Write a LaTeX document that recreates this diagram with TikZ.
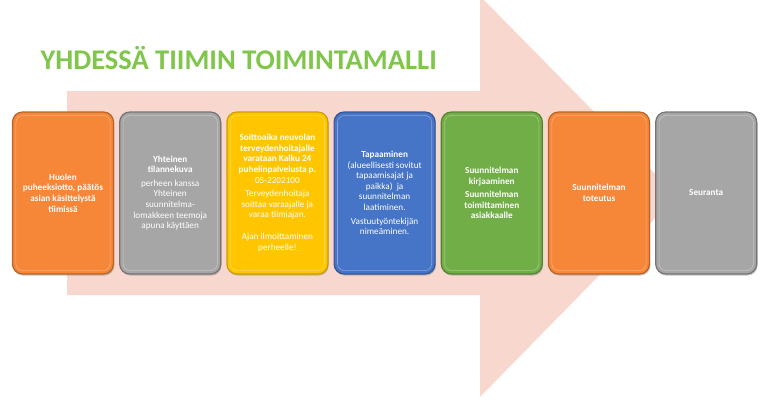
\documentclass[tikz,border=0pt]{standalone}
\usepackage{fontspec}
\setmainfont{Carlito}
\usetikzlibrary{positioning,shadows}
\definecolor{arrowpink}{RGB}{248,216,206}
\definecolor{titlegreen}{RGB}{128,198,76}
\definecolor{phasegray}{RGB}{166,166,166}
\definecolor{phaseorange}{RGB}{246,134,56}
\definecolor{phaseyellow}{RGB}{255,198,0}
\definecolor{phaseblue}{RGB}{70,116,198}
\definecolor{phasegreen}{RGB}{114,174,72}

\begin{document}
\begin{tikzpicture}[x=1pt,y=-1pt,node distance=5pt,phase/.style={rounded corners=10pt,minimum width=101pt,minimum height=162pt,inner sep=2pt,align=center,text=white,font=\fontsize{9.2}{10.6}\selectfont,line width=1.2pt,drop shadow={shadow xshift=0.8pt,shadow yshift=-1.6pt,opacity=0.45}}]
\tikzstyle{inner rim} = [draw=white,opacity=0.35,line width=0.6pt,rounded corners=7pt]
\useasboundingbox (0,0) rectangle (760,400);

\coordinate (shaftnw) at (67,91);
\coordinate (shaftne) at (480,91);
\coordinate (headtop) at (480,-4);
\coordinate (headtip) at (677,196);
\coordinate (headbot) at (480,397);
\coordinate (shaftse) at (480,295);
\coordinate (shaftsw) at (67,295);

% Draw big arrow
\fill[arrowpink] (shaftnw) -- (shaftne) -- (headtop) -- (headtip) -- (headbot) -- (shaftse) -- (shaftsw) -- cycle;

% Heading
\node[anchor=west,text=titlegreen,font=\fontsize{28.5}{32}\selectfont\bfseries] (heading) at (37,58) {YHDESSÄ TIIMIN TOIMINTAMALLI};

% Phases
\node[phase,fill=phaseorange,draw=phaseorange!75!black] (huoli) at (63,193) {\textbf{Huolen}\\\textbf{puheeksiotto, päätös}\\\textbf{asian käsittelystä}\\\textbf{tiimissä}};
\node[phase,fill=phasegray,draw=phasegray!70!black,right=of huoli] (tilanne) {\textbf{Yhteinen}\\\textbf{tilannekuva}\\[3pt]perheen kanssa\\Yhteinen\\suunnitelma-\\lomakkeen teemoja\\apuna käyttäen};
\node[phase,fill=phaseyellow,draw=phaseyellow!80!black,right=of tilanne] (soitto) {\textbf{Soittoaika neuvolan}\\\textbf{terveydenhoitajalle}\\\textbf{varataan Kaiku 24}\\\textbf{puhelinpalvelusta p.}\\05-2202100\\[3pt]Terveydenhoitaja\\soittaa varaajalle ja\\varaa tiimiajan.\\[11pt]Ajan ilmoittaminen\\perheelle!};
\node[phase,fill=phaseblue,draw=phaseblue!75!black,right=of soitto] (tapaa) {\textbf{Tapaaminen}\\(alueellisesti sovitut\\tapaamisajat ja\\paikka)\ \ ja\\suunnitelman\\laatiminen.\\[3pt]Vastuutyöntekijän\\nimeäminen.};
\node[phase,fill=phasegreen,draw=phasegreen!75!black,right=of tapaa] (kirjaus) {\textbf{Suunnitelman}\\\textbf{kirjaaminen}\\[3pt]\textbf{Suunnitelman}\\\textbf{toimittaminen}\\\textbf{asiakkaalle}};
\node[phase,fill=phaseorange,draw=phaseorange!75!black,right=of kirjaus] (toteutus) {\textbf{Suunnitelman}\\\textbf{toteutus}};
\node[phase,fill=phasegray,draw=phasegray!70!black,right=of toteutus] (seuranta) {\textbf{Seuranta}};

% Bevel rims
\foreach \b in {huoli,tilanne,soitto,tapaa,kirjaus,toteutus,seuranta}
  \draw[inner rim] ([xshift=4pt,yshift=-4pt]\b.north west) rectangle ([xshift=-4pt,yshift=4pt]\b.south east);

\end{tikzpicture}
\end{document}
